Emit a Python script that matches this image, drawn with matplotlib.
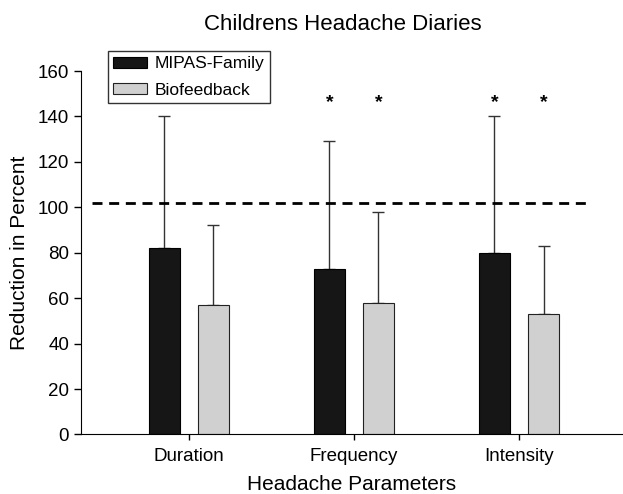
import matplotlib
matplotlib.use('Agg')
import matplotlib.pyplot as plt
import numpy as np

plt.rcParams['font.family'] = ['Liberation Sans', 'DejaVu Sans']

categories = ['Duration', 'Frequency', 'Intensity']
mipas = [82, 73, 80]
mipas_err = [58, 56, 60]
biofeedback = [57, 58, 53]
bio_err = [35, 40, 30]
reference_line = 102
star_groups = [1, 2]

x = np.arange(len(categories))
w = 0.186
off = 0.149

fig = plt.figure(figsize=(6.23, 4.94), dpi=100)
ax = fig.add_axes([0.130, 0.1205, 0.870, 0.7357])

ax.bar(x - off, mipas, w, color='#161616', edgecolor='#000000', linewidth=0.8,
       label='MIPAS-Family', zorder=2)
ax.bar(x + off, biofeedback, w, color='#d0d0d0', edgecolor='#222222', linewidth=0.8,
       label='Biofeedback', zorder=2)

ax.errorbar(x - off, mipas, yerr=[np.zeros(3), mipas_err], fmt='none',
            ecolor='#333333', elinewidth=1, capsize=4.3, capthick=1, zorder=1)
ax.errorbar(x + off, biofeedback, yerr=[np.zeros(3), bio_err], fmt='none',
            ecolor='#333333', elinewidth=1, capsize=4.3, capthick=1, zorder=1)

ax.plot([-0.584, 2.44], [reference_line, reference_line], color='black',
        linestyle=(0, (3.6, 2.4)), linewidth=2, zorder=3)

for g in star_groups:
    ax.text(g - off, 146, '*', ha='center', va='center', fontsize=14, fontweight='bold')
    ax.text(g + off, 146, '*', ha='center', va='center', fontsize=14, fontweight='bold')

ax.set_xlim(-0.653, 2.63)
ax.set_ylim(0, 160)
ax.set_yticks(range(0, 161, 20))
ax.set_xticks(x)
ax.set_xticklabels(categories)
ax.tick_params(axis='both', labelsize=13.5, direction='out', length=5, width=1)
ax.tick_params(axis='x', length=4, pad=6)

ax.spines['top'].set_visible(False)
ax.spines['right'].set_visible(False)

ax.set_xlabel('Headache Parameters', fontsize=15, labelpad=7)
ax.set_ylabel('Reduction in Percent', fontsize=15, labelpad=6)
fig.text(0.551, 0.95, 'Childrens Headache Diaries', ha='center', va='center', fontsize=16)

leg = ax.legend(loc='upper left', bbox_to_anchor=(0.05, 1.055), borderaxespad=0,
                fontsize=12.5, frameon=True, fancybox=False, edgecolor='black',
                handlelength=1.95, handleheight=0.6, handletextpad=0.45,
                borderpad=0.3, labelspacing=0.65)
leg.get_frame().set_linewidth(1)

fig.savefig('out.png', dpi=100)
